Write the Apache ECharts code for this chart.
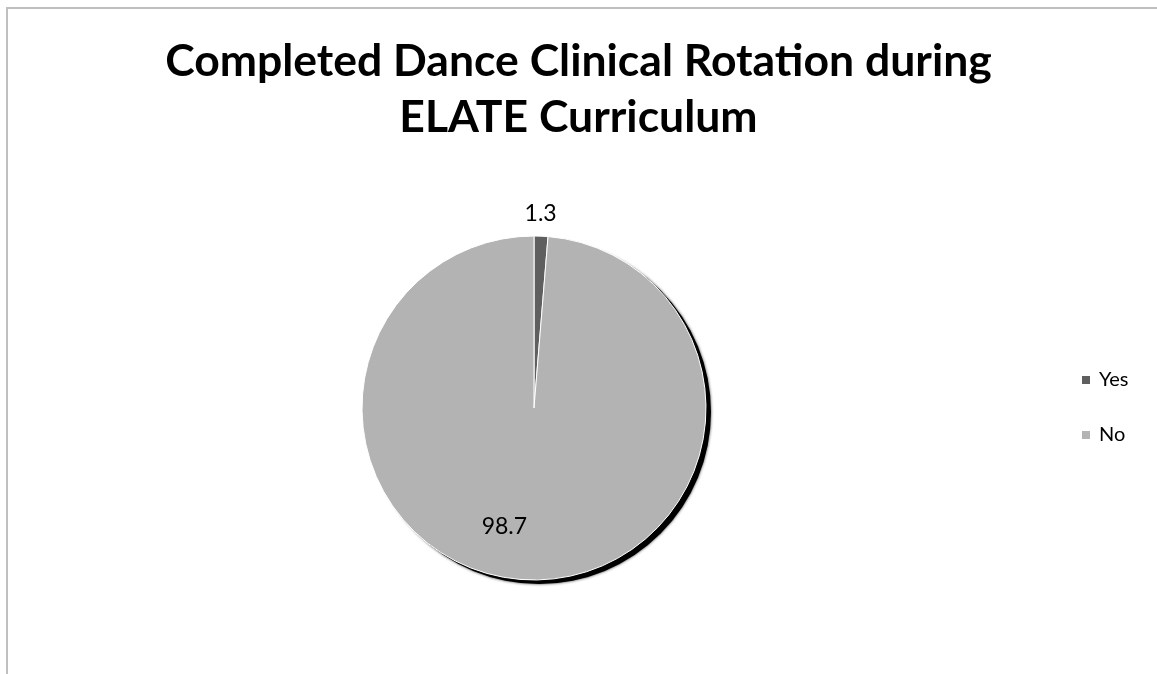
<!DOCTYPE html>
<html>
<head>
<meta charset="utf-8">
<script src="https://cdn.jsdelivr.net/npm/echarts@6/dist/echarts.min.js"></script>
<style>
html,body{margin:0;padding:0;background:#fff;}
#frame{position:absolute;left:6px;top:7px;width:1151px;height:667px;border-left:2px solid #bfbfbf;border-top:2px solid #bfbfbf;box-sizing:border-box;}
#chart{position:absolute;left:0;top:0;width:1157px;height:674px;}
</style>
</head>
<body>
<div id="frame"></div>
<div id="chart"></div>
<script>
const titleText = 'Completed Dance Clinical Rotation during\nELATE Curriculum';
const categories = ['Yes', 'No'];
const values = [1.3, 98.7];
const colors = ['#5f5f5f', '#b3b3b3'];

const chart = echarts.init(document.getElementById('chart'));
const pieData = categories.map((c, i) => ({
  name: c,
  value: values[i],
  itemStyle: { color: colors[i] },
  label: i === 0
    ? { position: 'inside', offset: [3, -105] }
    : { position: 'inside', offset: [-26, 30] }
}));
const total = values.reduce((a, b) => a + b, 0);

chart.setOption({
  backgroundColor: 'transparent',
  title: {
    text: titleText,
    left: 'center',
    top: 29,
    padding: [5, 5, 5, 15],
    textStyle: { fontFamily: 'Lato', fontWeight: 'bold', fontSize: 44.5, color: '#000', lineHeight: 56 }
  },
  legend: {
    orient: 'vertical',
    left: 1075,
    top: 365,
    itemWidth: 10,
    itemHeight: 10,
    itemGap: 35,
    icon: 'rect',
    data: categories,
    textStyle: { fontFamily: 'Lato', fontSize: 20, color: '#000', padding: [0, 0, 0, 3] }
  },
  series: [
    {
      type: 'pie',
      silent: true,
      center: [539, 412],
      radius: 172,
      startAngle: 90,
      label: { show: false },
      labelLine: { show: false },
      itemStyle: { color: '#000', shadowColor: 'rgba(0,0,0,0.8)', shadowBlur: 3 },
      data: [{ name: 'shadow', value: total }],
      z: 1
    },
    {
      type: 'pie',
      center: [534, 408],
      radius: 172,
      startAngle: 90,
      clockwise: true,
      animation: false,
      itemStyle: { borderColor: '#fff', borderWidth: 1 },
      label: {
        show: true,
        formatter: p => p.value.toFixed(1),
        fontFamily: 'Lato',
        fontSize: 23,
        color: '#000'
      },
      labelLine: { show: false },
      data: pieData,
      z: 2
    }
  ],
  animation: false
});
</script>
</body>
</html>
